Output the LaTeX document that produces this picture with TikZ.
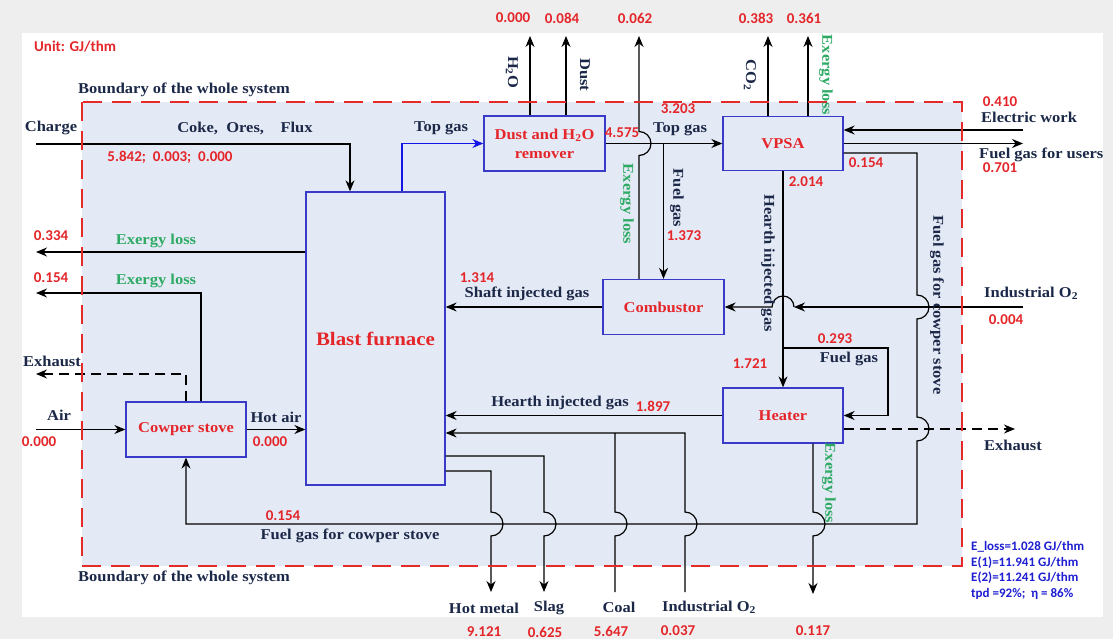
\documentclass[tikz,border=0pt]{standalone}
\usepackage{fontspec}
\setmainfont{Liberation Serif}[FakeStretch=1.1]
\newfontfamily\numfont{Carlito}
\usetikzlibrary{arrows.meta}
\definecolor{navy}{RGB}{27,40,72}
\definecolor{exgreen}{RGB}{46,170,100}
\definecolor{numred}{RGB}{228,38,42}
\definecolor{boxblue}{RGB}{58,58,200}
\definecolor{topblue}{RGB}{20,20,230}
\definecolor{fillblue}{RGB}{228,234,245}
\definecolor{statblue}{RGB}{30,30,210}
\definecolor{bggray}{RGB}{238,238,238}
\definecolor{bndred}{RGB}{229,42,42}

\begin{document}
\begin{tikzpicture}[x=1pt, y=-1pt,
    flow/.style={line width=1.2pt, -{Stealth[length=11pt,width=9pt]}},
    pipe/.style={line width=1.2pt},
    box/.style={draw=boxblue, line width=1.3pt, fill=fillblue, text=numred, inner sep=0pt, align=center, font=\bfseries\fontsize{15}{19}\selectfont},
    lbl/.style={text=navy, inner sep=0pt, font=\bfseries\fontsize{15}{15}\selectfont},
    gl/.style={lbl, text=exgreen},
    num/.style={text=numred, inner sep=0pt, font=\numfont\bfseries\fontsize{15}{15}\selectfont},
    stat/.style={text=statblue, inner sep=0pt, anchor=west, font=\numfont\bfseries\fontsize{13}{13}\selectfont}]
    \fill[bggray] (0,0) rectangle (1113,639);
    \fill[white] (22,33) rectangle (1103,617);
    \fill[fillblue] (82,102) rectangle (962,566);

    \node[box, minimum width=139pt, minimum height=293pt] (bf) at (375.5,338.5) {\fontsize{19}{19}\selectfont Blast furnace};
    \node[box, minimum width=121pt, minimum height=55pt] (dust) at (544.5,143.5) {Dust and H\textsubscript{2}O\\remover};
    \node[box, minimum width=120pt, minimum height=54pt] (vpsa) at (783,143.5) {VPSA};
    \node[box, minimum width=121pt, minimum height=55pt] (comb) at (663.5,307) {Combustor};
    \node[box, minimum width=120pt, minimum height=55pt] (heater) at (783,415.5) {Heater};
    \node[box, minimum width=120pt, minimum height=55pt] (cowper) at (186,429.5) {Cowper stove};

    \coordinate (charge) at (36,144);
    \coordinate (h2o) at (530,36);
    \coordinate (dst) at (566,36);
    \coordinate (exc) at (639,36);
    \coordinate (co2) at (768,36);
    \coordinate (exv) at (808,36);
    \coordinate (elec) at (1023,130);
    \coordinate (users) at (1023,143.5);
    \coordinate (o2r) at (1023,307);
    \coordinate (exh2) at (1015,429);
    \coordinate (exh) at (813,594);
    \coordinate (coal) at (615,592);
    \coordinate (o2b) at (685,592);
    \coordinate (hotm) at (491,592);
    \coordinate (slag) at (544,592);
    \coordinate (exbf) at (36,252);
    \coordinate (exc1) at (36,293);
    \coordinate (exh1) at (36,374);
    \coordinate (air) at (36,429.5);
    \coordinate (fgsplit) at (783,348);

    \draw[flow] (charge) -| (bf.north -| 350,0);
    \draw[flow, topblue] (bf.north -| 402,0) |- (dust.west);
    \draw[flow] (dust.north -| h2o) -- (h2o);
    \draw[flow] (dust.north -| dst) -- (dst);
    \draw[flow] (dust.east) -- (vpsa.west);
    \draw[flow] (dust.east -| comb.north) -- (comb.north);
    \draw[flow] (comb.north -| exc) -- (639,155.5) arc(-90:90:12pt) -- (exc);
    \draw[flow] (vpsa.north -| co2) -- (co2);
    \draw[flow] (vpsa.north -| exv) -- (exv);
    \draw[flow] (elec) -- (elec -| vpsa.east);
    \draw[flow] (vpsa.east) -- (users);
    \draw[flow] (vpsa.south) -- (heater.north);
    \draw[flow] (fgsplit) -- (888,348) |- (heater.east);
    \draw[flow] (vpsa.east |- 0,153) -- (917,153) -- (917,295) arc(90:-90:12pt) -- (917,417) arc(90:-90:12pt) -- (917,524) -| (cowper.south);
    \draw[flow] (o2r) -- (794,307);
    \draw[flow] (794,307) arc(0:180:11pt) -- (comb.east);
    \draw[flow] (comb.west) -- (comb.west -| bf.east);
    \draw[flow] (heater.west) -- (heater.west -| bf.east);
    \draw[flow, dash pattern=on 10pt off 6pt] (heater.east |- 0,429) -- (exh2);
    \draw[flow] (heater.south -| exh) -- (813,512) arc(90:-90:12pt) -- (exh);
    \draw[pipe] (coal) -- (615,536) arc(-90:90:12pt) -- (615,433);
    \draw[flow] (o2b) -- (685,536) arc(-90:90:12pt) -- (685,433) -- (bf.east |- 0,433);
    \draw[flow] (bf.east |- 0,456) -- (544,456) -- (544,512) arc(90:-90:12pt) -- (slag);
    \draw[flow] (bf.east |- 0,471) -- (491,471) -- (491,512) arc(90:-90:12pt) -- (hotm);
    \draw[flow] (bf.west |- exbf) -- (exbf);
    \draw[flow] (cowper.north -| 201,0) |- (exc1);
    \draw[flow, dash pattern=on 10pt off 6pt] (cowper.north) |- (exh1);
    \draw[flow] (air) -- (cowper.west);
    \draw[flow] (cowper.east) -- (cowper.east -| bf.west);

    \draw[bndred, line width=2pt, dash pattern=on 19pt off 10pt] (82,102) rectangle (962,566);

    \node[num, anchor=west] (unit) at (34,47) {Unit: GJ/thm};
    \node[lbl, anchor=west] (bndtop) at (78,90) {Boundary of the whole system};
    \node[lbl, anchor=west] (bndbot) at (78,578) {Boundary of the whole system};
    \node[lbl] (lcharge) at (51,128) {Charge};
    \node[lbl] (lcoke) at (245,128) {Coke,\ \ Ores,\ \ \ \ Flux};
    \node[num] (vcoke) at (170,157) {5.842;\ \ 0.003;\ \ 0.000};
    \node[lbl] (ltop1) at (441,128) {Top gas};
    \node[lbl, rotate=-90] (lh2o) at (512,72) {H\textsubscript{2}O};
    \node[lbl, rotate=-90] (ldust) at (585,75) {Dust};
    \node[num] (vh2o) at (513,18) {0.000};
    \node[num] (vdust) at (562,18) {0.084};
    \node[num] (vexc) at (635,18) {0.062};
    \node[num] (vco2) at (756,18) {0.383};
    \node[num] (vexv) at (804,18) {0.361};
    \node[gl, rotate=-90] (lexc) at (627,204) {Exergy loss};
    \node[num] (vdusto) at (622,133) {4.575};
    \node[num] (vtop2) at (678,109) {3.203};
    \node[lbl] (ltop2) at (680,129) {Top gas};
    \node[lbl, rotate=-90] (lfuel1) at (677,198) {Fuel gas};
    \node[num] (vfuel1) at (684,236) {1.373};
    \node[lbl, rotate=-90] (lco2) at (750,75) {CO\textsubscript{2}};
    \node[gl, rotate=-90] (lexv) at (826,75) {Exergy loss};
    \node[num] (velec) at (1000,102) {0.410};
    \node[lbl, anchor=west] (lelec) at (981,117) {Electric work};
    \node[lbl, anchor=west] (lusers) at (979,155) {Fuel gas for users};
    \node[num] (vusers) at (1000,168) {0.701};
    \node[num] (vcow1) at (866,163) {0.154};
    \node[num] (vhearth1) at (806,182) {2.014};
    \node[lbl, rotate=-90] (lhearth1) at (768,263) {Hearth injected gas};
    \node[lbl, rotate=-90] (lcow1) at (937,305) {Fuel gas for cowper stove};
    \node[lbl, anchor=west] (lo2r) at (984,293) {Industrial O\textsubscript{2}};
    \node[num] (vo2r) at (1006,320) {0.004};
    \node[num] (vshaft) at (477,278) {1.314};
    \node[lbl] (lshaft) at (527,294) {Shaft injected gas};
    \node[num] (vfuel2) at (835,339) {0.293};
    \node[lbl] (lfuel2) at (849,359) {Fuel gas};
    \node[num] (vheat) at (750,364) {1.721};
    \node[lbl] (lhearth2) at (560,403) {Hearth injected gas};
    \node[num] (vhearth2) at (653,406) {1.897};
    \node[lbl] (lexh2) at (1013,445) {Exhaust};
    \node[gl, rotate=-90] (lexh) at (829,483) {Exergy loss};
    \node[num] (vbf) at (51,236) {0.334};
    \node[gl] (lexbf) at (156,241) {Exergy loss};
    \node[num] (vexc1) at (51,278) {0.154};
    \node[gl] (lexc1) at (156,281) {Exergy loss};
    \node[lbl] (lexh1) at (52,361) {Exhaust};
    \node[lbl] (lair) at (59,415) {Air};
    \node[num] (vair) at (39,442) {0.000};
    \node[lbl] (lhot) at (276,417) {Hot air};
    \node[num] (vhot) at (270,442) {0.000};
    \node[num] (vcow2) at (283,516) {0.154};
    \node[lbl] (lcow2) at (350,536) {Fuel gas for cowper stove};
    \node[lbl] (lhotm) at (484,608) {Hot metal};
    \node[lbl] (lslag) at (549,608) {Slag};
    \node[lbl] (lcoal) at (619,607) {Coal};
    \node[lbl] (lo2b) at (709,607) {Industrial O\textsubscript{2}};
    \node[num] (vhotm) at (484,632) {9.121};
    \node[num] (vslag) at (545,632) {0.625};
    \node[num] (vcoal) at (611,631) {5.647};
    \node[num] (vo2b) at (678,631) {0.037};
    \node[num] (vexh) at (813,631) {0.117};
    \node[stat] (s1) at (971,547) {E\_loss=1.028 GJ/thm};
    \node[stat] (s2) at (971,563) {E(1)=11.941 GJ/thm};
    \node[stat] (s3) at (971,578) {E(2)=11.241 GJ/thm};
    \node[stat] (s4) at (971,594) {tpd =92\%;\ \ η = 86\%};
\end{tikzpicture}
\end{document}
